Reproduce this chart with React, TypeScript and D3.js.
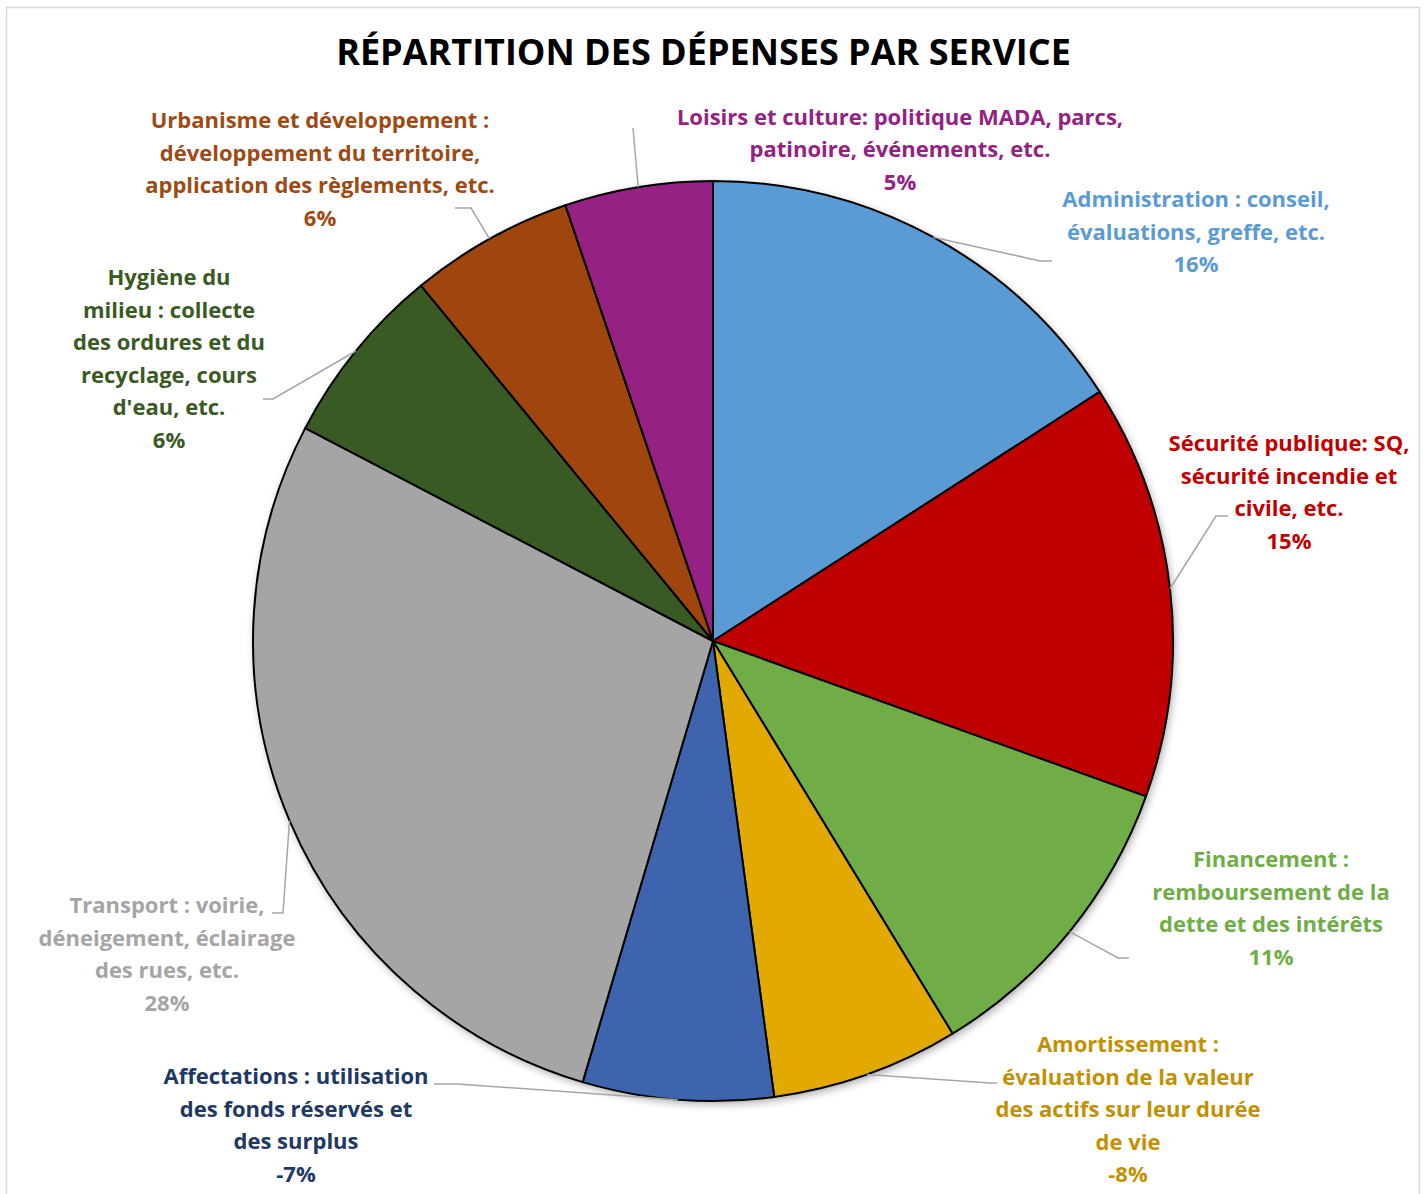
import React from "react";
import * as d3 from "d3";

// ---------- DATA ----------
const categories = [
  "Administration",
  "Sécurité publique",
  "Financement",
  "Amortissement",
  "Affectations",
  "Transport",
  "Hygiène du milieu",
  "Urbanisme et développement",
  "Loisirs et culture",
];
// share of the pie drawn for each service (absolute values, %)
const sliceShares = [15.9, 14.6, 10.8, 6.6, 6.7, 28.1, 6.4, 5.75, 5.2];
// percentage shown in each data label
const percentLabels = ["16%", "15%", "11%", "-8%", "-7%", "28%", "6%", "6%", "5%"];
// label text lines (before the percentage)
const labelLines = [
  ["Administration : conseil,", "évaluations, greffe, etc."],
  ["Sécurité publique: SQ,", "sécurité incendie et", "civile, etc."],
  ["Financement :", "remboursement de la", "dette et des intérêts"],
  ["Amortissement :", "évaluation de la valeur", "des actifs sur leur durée", "de vie"],
  ["Affectations : utilisation", "des fonds réservés et", "des surplus"],
  ["Transport : voirie,", "déneigement, éclairage", "des rues, etc."],
  ["Hygiène du", "milieu : collecte", "des ordures et du", "recyclage, cours", "d'eau, etc."],
  ["Urbanisme et développement :", "développement du territoire,", "application des règlements, etc."],
  ["Loisirs et culture: politique MADA, parcs,", "patinoire, événements, etc."],
];
const title = "RÉPARTITION DES DÉPENSES PAR SERVICE";

// ---------- STYLE / LAYOUT ----------
const sliceColors = ["#5B9BD5", "#C00000", "#70AD47", "#E2AA00", "#3E64AD", "#A5A5A5", "#3A5A24", "#9E460E", "#952183"];
const textColors = ["#5B9BD5", "#C00000", "#70AD47", "#C39100", "#203864", "#A5A5A5", "#3A5A24", "#9E4A12", "#952183"];

const W = 1426;
const H = 1194;
const CX = 713;
const CY = 641;
const R = 460;
const LINE_H = 32.5;
const FONT = "'Open Sans', Lato, sans-serif";

// label anchor (center x, first baseline) and leader elbow / end points
const labelLayout = [
  { x: 1196, y: 207, elbow: [1040, 261], end: [1052, 261] },
  { x: 1289, y: 451, elbow: [1216, 516], end: [1228, 516] },
  { x: 1271, y: 867, elbow: [1118, 958], end: [1129, 958] },
  { x: 1128, y: 1052, elbow: [990, 1083], end: [997, 1083] },
  { x: 296, y: 1084, elbow: [457, 1084], end: [434, 1084] },
  { x: 167, y: 913, elbow: [283, 913], end: [272, 913] },
  { x: 169, y: 285, elbow: [273, 399], end: [263, 399] },
  { x: 320, y: 128, elbow: [471, 208], end: [455, 208] },
  { x: 900, y: 124.5, elbow: [633, 128], end: [633, 128] },
];

export default function App() {
  const pie = d3.pie<number>().sort(null).value((d) => d);
  const arcs = pie(sliceShares);
  const arc = d3.arc<d3.PieArcDatum<number>>().innerRadius(0).outerRadius(R);

  return (
    <svg
      width={W}
      height={H}
      style={{ position: "absolute", left: 0, top: 0, background: "#fff" }}
    >
      <defs>
        <filter id="pieShadow" x="-10%" y="-10%" width="120%" height="120%">
          <feDropShadow dx="2" dy="3" stdDeviation="4" floodColor="#000" floodOpacity="0.35" />
        </filter>
      </defs>
      <rect x={6.5} y={7.5} width={1413} height={1200} fill="#fff" stroke="#D9D9D9" strokeWidth={1.5} />
      <text
        x={703.5}
        y={65}
        textAnchor="middle"
        fontFamily={FONT}
        fontWeight={700}
        fontSize={36}
        fill="#000"
      >
        {title}
      </text>

      <g transform={`translate(${CX},${CY})`}>
        <circle r={R} fill="#fff" filter="url(#pieShadow)" />
        {arcs.map((a, i) => (
          <path
            key={categories[i]}
            d={arc(a) || ""}
            fill={sliceColors[i]}
            stroke="#000"
            strokeWidth={2}
            strokeLinejoin="round"
          />
        ))}
      </g>

      {arcs.map((a, i) => {
        const mid = (a.startAngle + a.endAngle) / 2;
        const sx = CX + R * Math.sin(mid);
        const sy = CY - R * Math.cos(mid);
        const L = labelLayout[i];
        const path = d3.path();
        path.moveTo(sx, sy);
        path.lineTo(L.elbow[0], L.elbow[1]);
        path.lineTo(L.end[0], L.end[1]);
        return (
          <path
            key={"lead" + i}
            d={path.toString()}
            fill="none"
            stroke="#A6A6A6"
            strokeWidth={1.5}
          />
        );
      })}

      {labelLines.map((lines, i) => {
        const L = labelLayout[i];
        const all = [...lines, percentLabels[i]];
        return (
          <text
            key={"lab" + i}
            textAnchor="middle"
            fontFamily={FONT}
            fontWeight={700}
            fontSize={22}
            fill={textColors[i]}
          >
            {all.map((t, j) => (
              <tspan key={j} x={L.x} y={L.y + j * LINE_H}>
                {t}
              </tspan>
            ))}
          </text>
        );
      })}
    </svg>
  );
}
